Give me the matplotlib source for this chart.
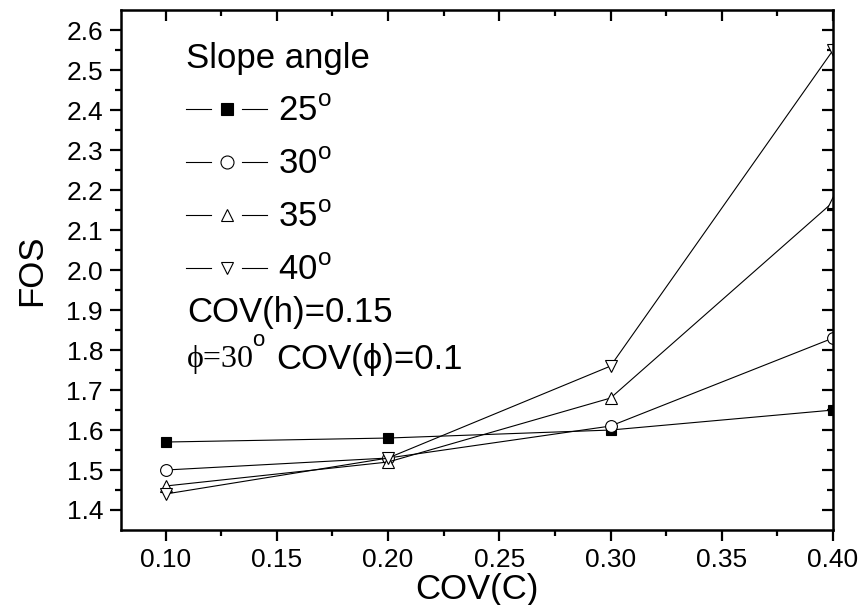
import numpy as np
import matplotlib.pyplot as plt
from matplotlib.lines import Line2D
from matplotlib.legend_handler import HandlerLine2D

plt.rcParams['font.family'] = ['Liberation Sans', 'DejaVu Sans']
plt.rcParams['mathtext.fontset'] = 'custom'
plt.rcParams['mathtext.rm'] = 'Liberation Sans'

# --- data ---
cov_c = [0.10, 0.20, 0.30, 0.40]
angles = ['25', '30', '35', '40']
fos_25 = [1.57, 1.58, 1.60, 1.65]
fos_30 = [1.50, 1.53, 1.61, 1.83]
fos_35 = [1.46, 1.52, 1.68, 2.17]
fos_40 = [1.44, 1.53, 1.76, 2.55]
series = [fos_25, fos_30, fos_35, fos_40]
markers = [('s', 'black'), ('o', 'white'), ('^', 'white'), ('v', 'white')]


class GapHandler(HandlerLine2D):
    # Origin style legend key: line - marker - line, with gaps around the marker
    def create_artists(self, legend, orig_handle, xdescent, ydescent,
                       width, height, fontsize, trans):
        y = (height - ydescent) / 2
        x0, x1 = -xdescent, -xdescent + width
        xm = (x0 + x1) / 2
        gap = 0.19 * width
        seg = Line2D([x0, xm - gap, np.nan, xm + gap, x1], [y] * 5,
                     color='black', linewidth=0.8)
        mk = Line2D([xm], [y])
        self.update_prop(mk, orig_handle, legend)
        mk.set_linestyle('none')
        mk.set_markersize(orig_handle.get_markersize() * 1.1)
        seg.set_transform(trans)
        mk.set_transform(trans)
        return [seg, mk]


fig = plt.figure(figsize=(8.65, 6.05), dpi=100)
ax = fig.add_axes([0.140, 0.124, 0.823, 0.859])

for ang, vals, (m, fc) in zip(angles, series, markers):
    ax.plot(cov_c, vals, color='black', linewidth=0.8, marker=m,
            markersize=7.5 if m == 's' else 8.5,
            markerfacecolor=fc, markeredgecolor='black', markeredgewidth=0.8,
            label=ang + r'$^{\rm o}$')

ax.set_xlim(0.08, 0.40)
ax.set_ylim(1.35, 2.65)
ax.set_xticks(np.arange(0.10, 0.401, 0.05))
ax.set_xticks(np.arange(0.125, 0.40, 0.05), minor=True)
ax.set_yticks(np.arange(1.4, 2.601, 0.1))
ax.set_yticks(np.arange(1.45, 2.65, 0.1), minor=True)
ax.xaxis.set_major_formatter(plt.FormatStrFormatter('%.2f'))
ax.yaxis.set_major_formatter(plt.FormatStrFormatter('%.1f'))
ax.tick_params(which='both', direction='out', width=1.6, labelsize=19)
ax.tick_params(which='major', length=8, pad=5)
ax.tick_params(which='minor', length=4)
for s in ax.spines.values():
    s.set_linewidth(1.8)

# inward ticks on the top and right, as Origin draws them
top = ax.secondary_xaxis('top')
top.set_xticks(ax.get_xticks())
top.set_xticks(np.arange(0.125, 0.40, 0.05), minor=True)
top.tick_params(which='both', direction='in', width=1.6, labeltop=False)
top.tick_params(which='major', length=8)
top.tick_params(which='minor', length=4)
right = ax.secondary_yaxis('right')
right.set_yticks(ax.get_yticks())
right.set_yticks(np.arange(1.45, 2.65, 0.1), minor=True)
right.tick_params(which='both', direction='in', width=1.6, labelright=False)
right.tick_params(which='major', length=8)
right.tick_params(which='minor', length=4)

ax.set_xlabel('COV(C)', fontsize=25, labelpad=1)
ax.set_ylabel('FOS', fontsize=25, labelpad=13)

handles, labels = ax.get_legend_handles_labels()
leg = ax.legend(handles, labels, title='Slope angle', loc='upper left',
                bbox_to_anchor=(0.072, 0.966), frameon=False, fontsize=25,
                title_fontsize=25, handlelength=2.33, handletextpad=0.3,
                labelspacing=0.58, alignment='left', borderaxespad=0,
                handler_map={h: GapHandler() for h in handles})

ax.text(0.093, 0.419, 'COV(h)=0.15', transform=ax.transAxes, fontsize=25, va='center')

# last note line: serif phi part, then sans part
fig.canvas.draw()
t1 = ax.text(0.093, 0.328, '\u03d5=30', transform=ax.transAxes, fontsize=23, va='center',
             family=['Liberation Serif', 'DejaVu Serif'])
fig.canvas.draw()
bb = t1.get_window_extent()
inv = ax.transAxes.inverted()
x1 = inv.transform((bb.x1, 0))[0]
t2 = ax.text(x1 - 0.003, 0.365, 'o', transform=ax.transAxes, fontsize=16, va='center')
fig.canvas.draw()
bb2 = t2.get_window_extent()
x2 = inv.transform((bb2.x1 + 12, 0))[0]
ax.text(x2, 0.328, 'COV(\u03d5)=0.1', transform=ax.transAxes, fontsize=25, va='center',
        family=['Liberation Sans', 'Liberation Serif', 'DejaVu Sans'])

fig.savefig('out.png', dpi=100)
